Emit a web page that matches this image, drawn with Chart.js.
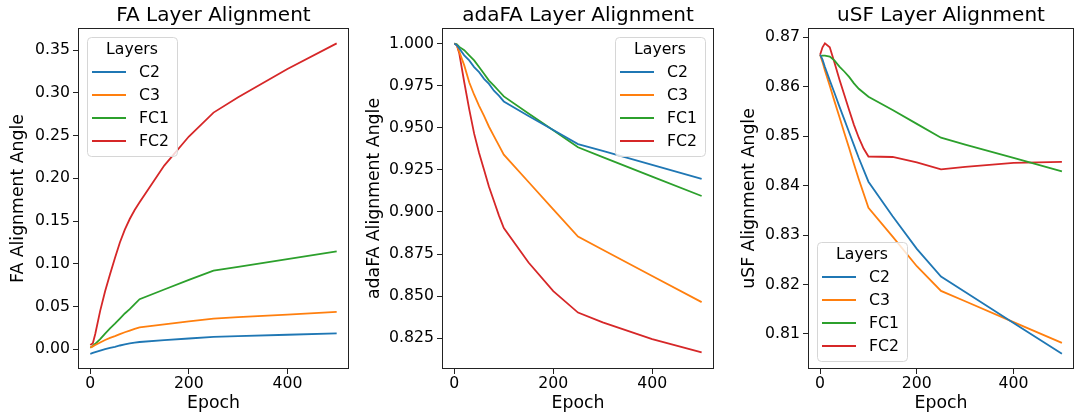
<!DOCTYPE html>
<html>
<head>
<meta charset="utf-8">
<script src="https://cdn.jsdelivr.net/npm/chart.js@4"></script>
<style>
  html, body { margin: 0; padding: 0; background: #fff; }
  #wrap { position: relative; width: 1075px; height: 418px; overflow: hidden; }
  canvas { position: absolute; top: 0; }
</style>
</head>
<body>
<div id="wrap">
  <canvas id="fa" width="358" height="418" style="left:0"></canvas>
  <canvas id="ada" width="358" height="418" style="left:358px"></canvas>
  <canvas id="usf" width="359" height="418" style="left:716px"></canvas>
</div>
<script>
// epochs where alignment was measured
const epochs = [0, 5, 10, 20, 30, 40, 50, 60, 70, 80, 90, 100, 150, 200, 250, 300, 400, 500];
const layers = ['C2', 'C3', 'FC1', 'FC2'];
const epochTicks = [0, 200, 400];

// FA
const faC2  = [-0.0052, -0.0042, -0.0032, -0.0014, 0.0003, 0.0017, 0.0030, 0.0045, 0.0058, 0.0069, 0.0078, 0.0086, 0.0107, 0.0127, 0.0145, 0.0154, 0.0171, 0.0188];
const faC3  = [0.0020, 0.0035, 0.0050, 0.0080, 0.0110, 0.0135, 0.0155, 0.0178, 0.0200, 0.0220, 0.0240, 0.0258, 0.0293, 0.0328, 0.0360, 0.0376, 0.0407, 0.0438];
const faFC1 = [0.0020, 0.0040, 0.0065, 0.0120, 0.0185, 0.0245, 0.0300, 0.0360, 0.0420, 0.0470, 0.0530, 0.0587, 0.0700, 0.0812, 0.0920, 0.0965, 0.1056, 0.1147];
const faFC2 = [0.0050, 0.0070, 0.0180, 0.0450, 0.0680, 0.0880, 0.1070, 0.1250, 0.1400, 0.1525, 0.1630, 0.1720, 0.2150, 0.2490, 0.2770, 0.2950, 0.3280, 0.3580];
const faTicks = [0, 0.05, 0.10, 0.15, 0.20, 0.25, 0.30, 0.35];

// adaFA
const adaC2  = [1.0, 0.9990, 0.9970, 0.9930, 0.9900, 0.9860, 0.9830, 0.9790, 0.9760, 0.9720, 0.9690, 0.9656, 0.9570, 0.9487, 0.9403, 0.9362, 0.9280, 0.9196];
const adaC3  = [1.0, 0.9990, 0.9950, 0.9870, 0.9770, 0.9696, 0.9630, 0.9570, 0.9506, 0.9450, 0.9395, 0.9340, 0.9178, 0.9016, 0.8854, 0.8776, 0.8620, 0.8465];
const adaFC1 = [1.0, 0.9995, 0.9980, 0.9960, 0.9930, 0.9900, 0.9860, 0.9820, 0.9780, 0.9750, 0.9718, 0.9686, 0.9585, 0.9485, 0.9384, 0.9326, 0.9210, 0.9095];
const adaFC2 = [1.0, 0.9990, 0.9940, 0.9770, 0.9610, 0.9465, 0.9350, 0.9250, 0.9150, 0.9065, 0.8980, 0.8905, 0.8700, 0.8530, 0.8403, 0.8345, 0.8245, 0.8166];
const adaTicks = [0.825, 0.850, 0.875, 0.900, 0.925, 0.950, 0.975, 1.000];

// uSF
const usfC2  = [0.8665, 0.8655, 0.8640, 0.8613, 0.8587, 0.8560, 0.8534, 0.8508, 0.8482, 0.8456, 0.8432, 0.8408, 0.8338, 0.8272, 0.8216, 0.8185, 0.8122, 0.8060];
const usfC3  = [0.8665, 0.8650, 0.8633, 0.8602, 0.8570, 0.8539, 0.8507, 0.8476, 0.8444, 0.8413, 0.8384, 0.8355, 0.8297, 0.8237, 0.8187, 0.8166, 0.8124, 0.8082];
const usfFC1 = [0.8662, 0.8663, 0.8663, 0.8661, 0.8653, 0.8641, 0.8631, 0.8620, 0.8607, 0.8596, 0.8588, 0.8580, 0.8553, 0.8525, 0.8497, 0.8483, 0.8456, 0.8429];
const usfFC2 = [0.8665, 0.8680, 0.8688, 0.8680, 0.8648, 0.8615, 0.8584, 0.8553, 0.8523, 0.8497, 0.8475, 0.8459, 0.8458, 0.8447, 0.8433, 0.8438, 0.8446, 0.8448];
const usfTicks = [0.81, 0.82, 0.83, 0.84, 0.85, 0.86, 0.87];

const colors = ['#1f77b4', '#ff7f0e', '#2ca02c', '#d62728'];
const FONT = 'DejaVu Sans';
Chart.defaults.font.family = FONT;
Chart.defaults.color = '#000';

// matplotlib-like box around the axes plus the "Layers" legend inside it
const frameLegend = {
  id: 'frameLegend',
  afterDatasetsDraw(chart, args, opts) {
    const { ctx, chartArea: a } = chart;
    ctx.save();
    ctx.strokeStyle = '#222';
    ctx.lineWidth = 1;
    ctx.strokeRect(Math.round(a.left) + 0.5, Math.round(a.top) + 0.5,
      Math.round(a.right - a.left) - 1, Math.round(a.bottom - a.top) - 1);

    const w = 90, h = 119;
    const x = opts.corner[1] === 'l' ? a.left + 9 : a.right - 9 - w;
    const y = opts.corner[0] === 'u' ? a.top + 9 : a.bottom - 8 - h;
    ctx.beginPath();
    ctx.roundRect(x + 0.5, y + 0.5, w, h, 4);
    ctx.fillStyle = 'rgba(255,255,255,0.8)';
    ctx.fill();
    ctx.strokeStyle = '#d6d6d6';
    ctx.stroke();

    ctx.fillStyle = '#000';
    ctx.font = '15.7px "' + FONT + '"';
    ctx.textBaseline = 'middle';
    ctx.textAlign = 'center';
    ctx.fillText('Layers', x + w / 2, y + 13);
    ctx.textAlign = 'left';
    chart.data.datasets.forEach((ds, i) => {
      const ly = y + 35 + i * 23;
      ctx.strokeStyle = ds.borderColor;
      ctx.lineWidth = 1.8;
      ctx.beginPath();
      ctx.moveTo(x + 5, ly);
      ctx.lineTo(x + 39, ly);
      ctx.stroke();
      ctx.fillText(ds.label, x + 52, ly + 1);
    });
    ctx.restore();
  }
};

function makeChart(id, title, yLabel, series, yMin, yMax, yTicks, dec, corner, yWidth, yTitlePad, padRight) {
  const tickStyle = { display: true, drawOnChartArea: false, drawTicks: true, tickLength: 5, tickColor: '#222', lineWidth: 1 };
  return new Chart(document.getElementById(id), {
    type: 'line',
    data: {
      datasets: series.map((vals, i) => ({
        label: layers[i],
        data: epochs.map((e, j) => ({ x: e, y: vals[j] })),
        borderColor: colors[i],
        borderWidth: 1.8,
        pointRadius: 0,
        fill: false,
        tension: 0
      }))
    },
    options: {
      responsive: false,
      animation: false,
      layout: { padding: { left: 0, right: padRight, top: 0, bottom: 0 } },
      plugins: {
        legend: { display: false },
        tooltip: { enabled: false },
        title: {
          display: true, text: title, fullSize: false, color: '#000',
          font: { size: 20, weight: 'normal' }, padding: { top: 4, bottom: 0 }
        },
        frameLegend: { corner: corner }
      },
      scales: {
        x: {
          type: 'linear', min: -25, max: 525,
          afterBuildTicks: s => { s.ticks = epochTicks.map(v => ({ value: v })); },
          afterFit: s => { s.height = 49; },
          grid: tickStyle,
          border: { display: false },
          ticks: { font: { size: 15.7 }, color: '#000', padding: 1, maxRotation: 0, autoSkip: false },
          title: { display: true, text: 'Epoch', color: '#000', font: { size: 17.3 }, padding: { top: 0, bottom: 4.5 } }
        },
        y: {
          type: 'linear', min: yMin, max: yMax,
          afterBuildTicks: s => { s.ticks = yTicks.map(v => ({ value: v })); },
          afterFit: s => { s.width = yWidth; },
          grid: tickStyle,
          border: { display: false },
          ticks: { font: { size: 15.7 }, color: '#000', padding: 3, autoSkip: false, callback: v => v.toFixed(dec) },
          title: { display: true, text: yLabel, color: '#000', font: { size: 17.3 }, padding: { top: yTitlePad, bottom: 0 } }
        }
      }
    },
    plugins: [frameLegend]
  });
}

makeChart('fa', 'FA Layer Alignment', 'FA Alignment Angle',
  [faC2, faC3, faFC1, faFC2], -0.023, 0.376, faTicks, 2, 'ul', 78, 8, 9);
makeChart('ada', 'adaFA Layer Alignment', 'adaFA Alignment Angle',
  [adaC2, adaC3, adaFC1, adaFC2], 0.8068, 1.0092, adaTicks, 3, 'ur', 84, 6.6, 2);
makeChart('usf', 'uSF Layer Alignment', 'uSF Alignment Angle',
  [usfC2, usfC3, usfFC1, usfFC2], 0.8029, 0.8719, usfTicks, 2, 'll', 92, 23.6, 1);
</script>
</body>
</html>
